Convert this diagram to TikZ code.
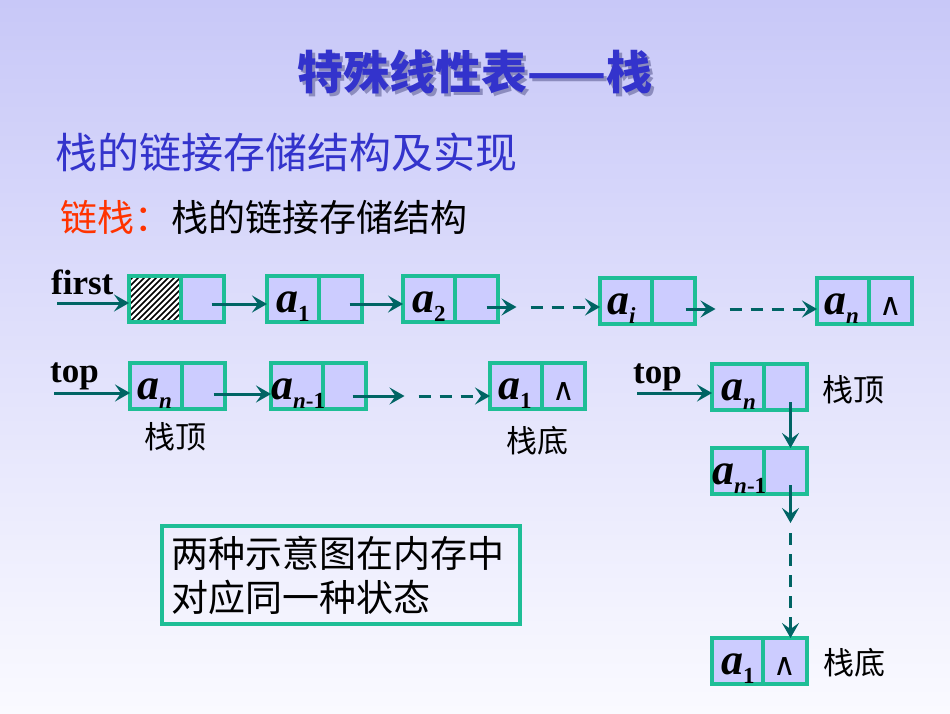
\documentclass[tikz,border=0pt]{standalone}
\usepackage{fontspec}
\setmainfont{Liberation Serif}
\newfontfamily\cjk{Noto Sans CJK SC}
\newfontfamily\symf{DejaVu Sans}
\usetikzlibrary{arrows.meta}
\definecolor{bdr}{RGB}{30,190,150}
\definecolor{cellfill}{RGB}{204,204,255}
\definecolor{arrcol}{RGB}{0,100,100}
\definecolor{ttl}{RGB}{51,51,204}
\definecolor{ttlshadow}{RGB}{140,140,190}
\definecolor{redt}{RGB}{255,51,0}
\definecolor{bgtop}{RGB}{200,200,248}
\definecolor{bgbot}{RGB}{250,250,255}
\newcommand{\elab}[1]{{\fontsize{44}{44}\selectfont\bfseries\itshape a}\raisebox{-9pt}{\fontsize{23}{23}\selectfont\bfseries #1}}
\begin{document}
\begin{tikzpicture}[x=1pt,y=-1pt,
  field/.style={draw=bdr, fill=cellfill, line width=3.2pt, minimum height=46pt, inner sep=0pt, outer sep=0pt},
  datacell/.style={field, minimum width=52pt},
  ptrcell/.style={field, minimum width=43pt},
  arr/.style={draw=arrcol, line width=3pt, -{Stealth[length=15pt,width=17pt,inset=6pt]}},
  darr/.style={arr, dash pattern=on 12pt off 9pt},
  elabel/.style={anchor=base west, inner sep=0pt},
  nilsym/.style={inner sep=0pt, font=\symf\fontsize{31}{31}\selectfont},
  ptrname/.style={anchor=base west, inner sep=0pt, font=\bfseries\fontsize{35}{35}\selectfont},
  cjktext/.style={inner sep=0pt},
  sidelabel/.style={cjktext, font=\cjk\fontsize{31}{31}\selectfont},
]
% background
\shade[top color=bgtop, bottom color=bgbot] (0,0) rectangle (950,713);
\useasboundingbox (0,0) rectangle (950,713);

% titles
\node[cjktext, text=ttlshadow, font=\cjk\bfseries\fontsize{46}{46}\selectfont] (titleshadow) at (478,75) {特殊线性表——栈};
\node[cjktext, text=ttl, font=\cjk\bfseries\fontsize{46}{46}\selectfont] (title) at (475,72) {特殊线性表——栈};
\node[cjktext, anchor=west, text=ttl, font=\cjk\fontsize{42}{42}\selectfont] (sub) at (55,152) {栈的链接存储结构及实现};
\node[cjktext, anchor=west, font=\cjk\fontsize{37}{37}\selectfont] (def) at (60,217) {\textcolor{redt}{链栈：}栈的链接存储结构};

% ---------- row 1 ----------
\node[datacell, anchor=north west, fill=white] (r1c0d) at (129,276) {};
\node[ptrcell, anchor=west] (r1c0p) at (r1c0d.east) {};
\begin{scope}
  \clip (r1c0d.south west) rectangle (r1c0d.north east);
  \foreach \x in {76,82,...,186} \draw[line width=1.6pt] (\x,322) -- ++(46,-46);
\end{scope}
\draw[draw=bdr, line width=3.2pt] (r1c0d.south west) rectangle (r1c0d.north east);

\node[datacell, anchor=north west] (r1c1d) at (267,276) {};
\node[ptrcell, anchor=west] (r1c1p) at (r1c1d.east) {};
\node[datacell, anchor=north west] (r1c2d) at (403,276) {};
\node[ptrcell, anchor=west] (r1c2p) at (r1c2d.east) {};
\node[datacell, anchor=north west] (r1c3d) at (600,278) {};
\node[ptrcell, anchor=west] (r1c3p) at (r1c3d.east) {};
\node[datacell, anchor=north west] (r1c4d) at (817,278) {};
\node[ptrcell, anchor=west] (r1c4p) at (r1c4d.east) {};

\node[elabel] (r1l1) at ([shift={(9,-10)}]r1c1d.south west) {\elab{1}};
\node[elabel] (r1l2) at ([shift={(9,-10)}]r1c2d.south west) {\elab{2}};
\node[elabel] (r1l3) at ([shift={(7,-10)}]r1c3d.south west) {\elab{\itshape i}};
\node[elabel] (r1l4) at ([shift={(7,-10)}]r1c4d.south west) {\elab{\itshape n}};
\node[nilsym] (r1nil) at ([shift={(0,6)}]r1c4p.center) {∧};

\node[ptrname] (first) at (51,294) {first};
\coordinate (s0) at (57,303);
\draw[arr] (s0) -- (s0 -| r1c0d.west);
\coordinate (s1) at ([shift={(9,5)}]r1c0p.center);
\draw[arr] (s1) -- (s1 -| r1c1d.west);
\coordinate (s2) at ([shift={(9,5)}]r1c1p.center);
\draw[arr] (s2) -- (s2 -| r1c2d.west);
\coordinate (s3) at ([shift={(10,8)}]r1c2p.center);
\draw[arr] (s3) -- ++(30,0) coordinate (m3);
\draw[darr] ([shift={(14,0)}]m3) -- (m3 -| r1c3d.west);
\coordinate (s4) at ([shift={(12,8)}]r1c3p.center);
\draw[arr] (s4) -- ++(30,0) coordinate (m4);
\draw[darr] ([shift={(14,0)}]m4) -- (m4 -| r1c4d.west);

% ---------- row 2 ----------
\node[datacell, anchor=north west] (r2c0d) at (130,363) {};
\node[ptrcell, anchor=west] (r2c0p) at (r2c0d.east) {};
\node[datacell, anchor=north west] (r2c1d) at (271,363) {};
\node[ptrcell, anchor=west] (r2c1p) at (r2c1d.east) {};
\node[datacell, anchor=north west] (r2c2d) at (490,363) {};
\node[ptrcell, anchor=west] (r2c2p) at (r2c2d.east) {};

\node[elabel] (r2l0) at ([shift={(7,-10)}]r2c0d.south west) {\elab{\itshape n}};
\node[elabel] (r2l1) at ([shift={(0,-10)}]r2c1d.south west) {\elab{\textit{n}-1}};
\node[elabel] (r2l2) at ([shift={(8,-10)}]r2c2d.south west) {\elab{1}};
\node[nilsym] (r2nil) at ([shift={(0,6)}]r2c2p.center) {∧};

\node[ptrname] (top1) at (50,382) {top};
\coordinate (t0) at (54,393);
\draw[arr] (t0) -- (t0 -| r2c0d.west);
\coordinate (t1) at ([shift={(10,8)}]r2c0p.center);
\draw[arr] (t1) -- (t1 -| r2c1d.west);
\coordinate (t2) at ([shift={(8,10)}]r2c1p.center);
\draw[arr] (t2) -- ++(52,0) coordinate (mt2);
\draw[darr] ([shift={(14,0)}]mt2) -- (mt2 -| r2c2d.west);

\node[sidelabel] (top1lbl) at (175,437) {栈顶};
\node[sidelabel] (bot1lbl) at (537,441) {栈底};

% ---------- right column ----------
\node[datacell, anchor=north west] (rc0d) at (712,364) {};
\node[ptrcell, anchor=west] (rc0p) at (rc0d.east) {};
\node[datacell, anchor=north west] (rc1d) at (712,448) {};
\node[ptrcell, anchor=west] (rc1p) at (rc1d.east) {};
\node[datacell, anchor=north west, minimum width=51pt] (rc2d) at (712,638) {};
\node[ptrcell, anchor=west, minimum width=44pt] (rc2p) at (rc2d.east) {};

\node[elabel] (rl0) at ([shift={(9,-10)}]rc0d.south west) {\elab{\itshape n}};
\node[elabel] (rl1) at ([shift={(0,-10)}]rc1d.south west) {\elab{\textit{n}-1}};
\node[elabel] (rl2) at ([shift={(9,-10)}]rc2d.south west) {\elab{1}};
\node[nilsym] (rnil) at ([shift={(0,6)}]rc2p.center) {∧};

\node[ptrname] (top2) at (633,383) {top};
\coordinate (u0) at (637,393);
\draw[arr] (u0) -- (u0 -| rc0d.west);
\coordinate (u1) at ([shift={(5,15)}]rc0p.center);
\draw[arr] (u1) -- (u1 |- rc1p.north);
\coordinate (u2) at ([shift={(5,14)}]rc1p.center);
\draw[arr] (u2) -- ++(0,38) coordinate (mu2);
\draw[darr] ([shift={(0,10)}]mu2) -- (mu2 |- rc2p.north);

\node[sidelabel] (top2lbl) at (853,390) {栈顶};
\node[sidelabel] (bot2lbl) at (854,663) {栈底};

% note box
\node[draw=bdr, line width=3.2pt, minimum width=358pt, minimum height=98pt, text width=340pt, align=left, inner sep=0pt, font=\cjk\fontsize{37}{44}\selectfont] (note) at (341,575) {两种示意图在内存中\\对应同一种状态};
\end{tikzpicture}
\end{document}
